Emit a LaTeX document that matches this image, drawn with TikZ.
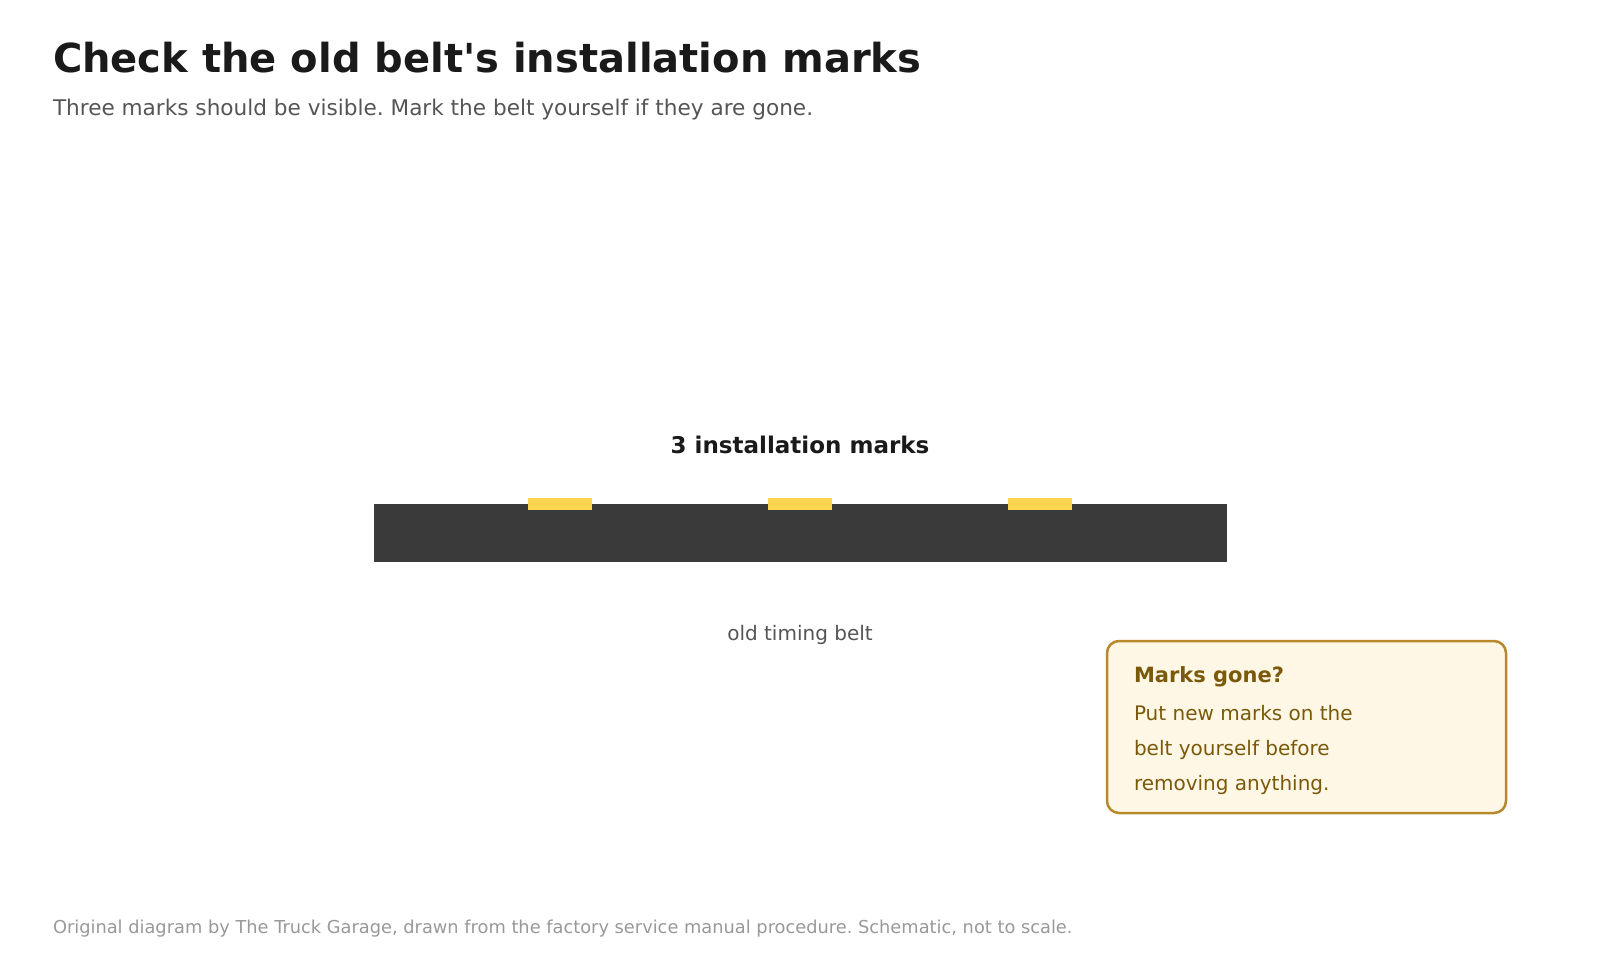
\documentclass[tikz,border=0pt]{standalone}
\usepackage{fontspec}
\setmainfont{DejaVu Sans}
\newfontfamily\titlefont{DejaVu Sans}[Ligatures=TeXOff]
\frenchspacing
\definecolor{titlec}{HTML}{1A1A1A}
\definecolor{subc}{HTML}{555555}
\definecolor{beltc}{HTML}{3A3A3A}
\definecolor{markc}{HTML}{FFD54F}
\definecolor{footc}{HTML}{999999}
\definecolor{calloutfill}{HTML}{FFF7E6}
\definecolor{calloutdraw}{HTML}{B8892A}
\definecolor{callouttext}{HTML}{7A5A0A}
\tikzset{
  txt/.style={inner sep=0pt, outer sep=0pt, anchor=base west},
  ctxt/.style={inner sep=0pt, outer sep=0pt, anchor=base},
  beltmark/.style={fill=markc, draw=none, minimum width=64pt, minimum height=12pt, inner sep=0pt, outer sep=0pt},
  beltbox/.style={fill=beltc, draw=none, minimum width=853pt, minimum height=58pt, inner sep=0pt, outer sep=0pt},
  callout/.style={fill=calloutfill, draw=calloutdraw, line width=2.5pt, rounded corners=12pt}
}
\begin{document}
\begin{tikzpicture}[x=1pt,y=-1pt]
\useasboundingbox[fill=white] (0,0) rectangle (1600,960);
\node[txt, text=titlec] (title) at (53,73) {\titlefont\fontsize{40}{48}\selectfont\bfseries Check the old belt's installation marks};
\node[txt, text=subc] (subtitle) at (53,115.5) {\fontsize{21.6}{26}\selectfont Three marks should be visible. Mark the belt yourself if they are gone.};
\node[ctxt, text=titlec] (marksheading) at (800,453) {\fontsize{23}{27}\selectfont\bfseries 3 installation marks};
\node[beltbox] (belt) at (800,533) {};
\node[beltmark] (m1) at (560,504) {};
\node[beltmark] (m2) at (800,504) {};
\node[beltmark] (m3) at (1040,504) {};
\node[ctxt, text=subc] (beltlabel) at (800,640) {\fontsize{20}{24}\selectfont old timing belt};
\draw[callout] (1107,641) rectangle (1506,813);
\node[txt, text=callouttext] (calloutH) at (1134,682.5) {\fontsize{21}{25}\selectfont\bfseries Marks gone?};
\node[txt, text=callouttext] (c1) at (1134,720) {\fontsize{20}{24}\selectfont Put new marks on the};
\node[txt, text=callouttext] (c2) at (1134,755) {\fontsize{20}{24}\selectfont belt yourself before};
\node[txt, text=callouttext] (c3) at (1134,790) {\fontsize{20}{24}\selectfont removing anything.};
\node[txt, text=footc] (footer) at (53,933) {\fontsize{17.8}{21}\selectfont Original diagram by The Truck Garage, drawn from the factory service manual procedure. Schematic, not to scale.};
\end{tikzpicture}
\end{document}
